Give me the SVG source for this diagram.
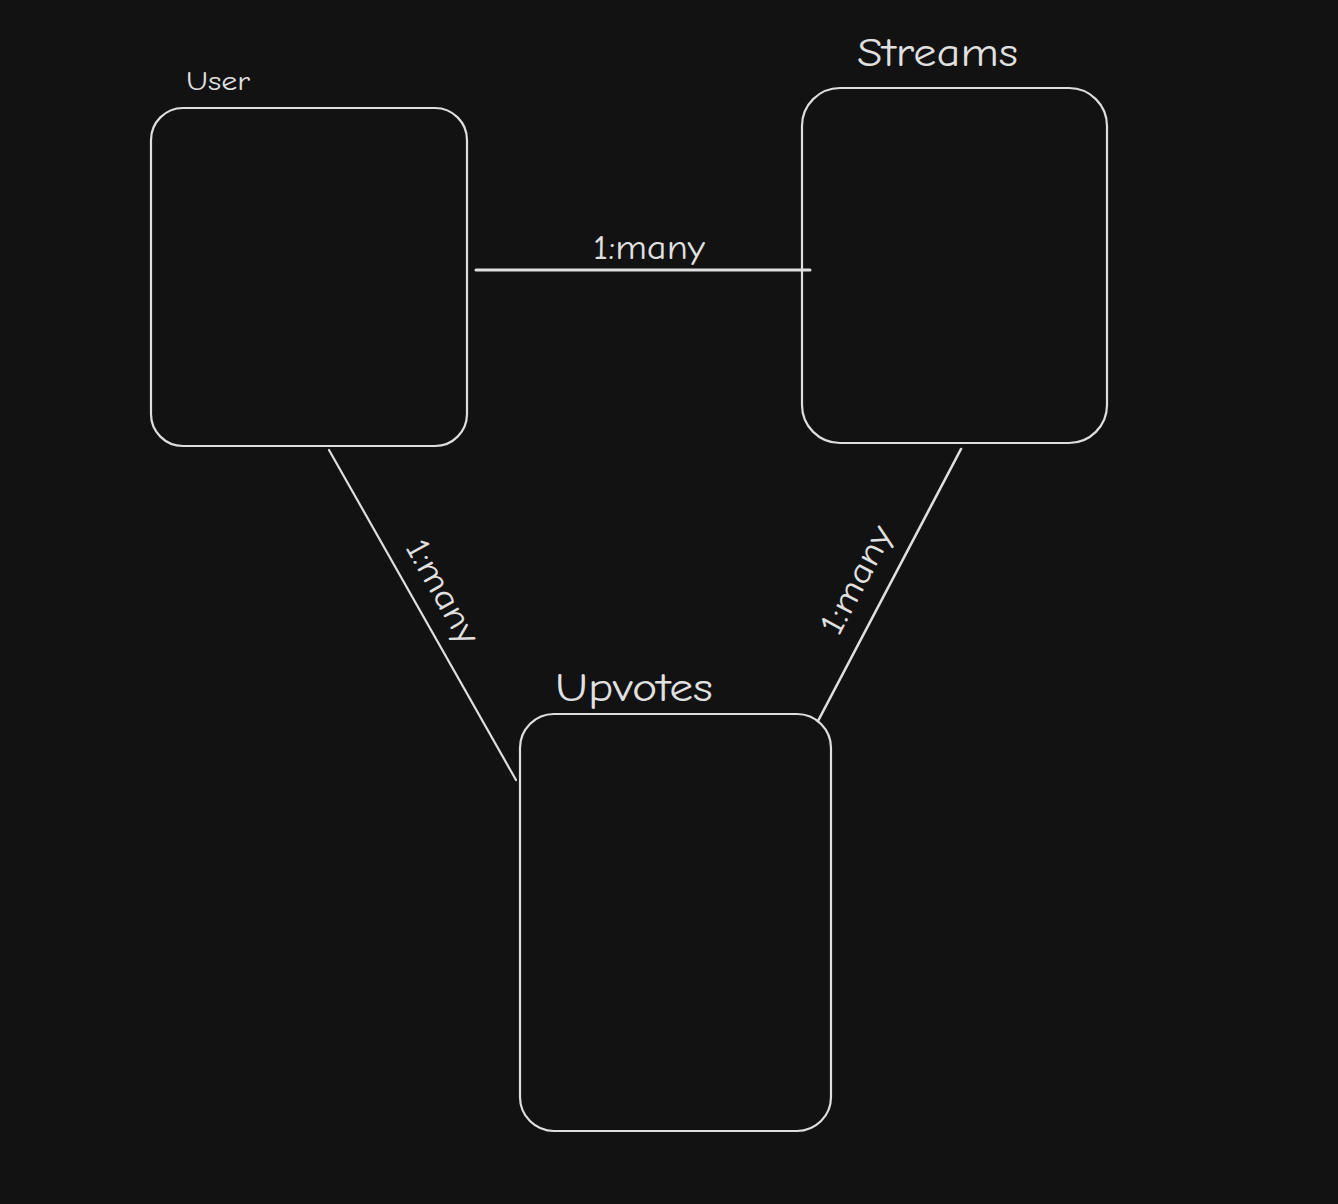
<svg xmlns="http://www.w3.org/2000/svg" width="1338" height="1204" viewBox="0 0 1338 1204">
<style>
.box{fill:none;stroke:#dedede;stroke-width:2.2}
.ln{fill:none;stroke:#dedede;stroke-linecap:round}
.t{fill:#e0e0e0;font-family:"Comic Neue","Liberation Sans",sans-serif}
</style>
<rect width="1338" height="1204" fill="#121212"/>
<g id="connectors">
<line class="ln" x1="476" y1="270" x2="810" y2="270" stroke-width="3"/>
<line class="ln" x1="329" y1="450" x2="516" y2="780" stroke-width="2.2"/>
<line class="ln" x1="961" y1="449" x2="818" y2="721" stroke-width="2.6"/>
<text class="t" x="593" y="259" font-size="34" textLength="112" lengthAdjust="spacingAndGlyphs">1:many</text>
<text class="t" font-size="34" text-anchor="middle" textLength="115" lengthAdjust="spacingAndGlyphs" transform="translate(433,597) rotate(60.6)">1:many</text>
<text class="t" font-size="34" text-anchor="middle" textLength="118" lengthAdjust="spacingAndGlyphs" transform="translate(866,585) rotate(-62.3)">1:many</text>
</g>
<g id="user">
<rect class="box" x="151" y="108" width="316" height="338" rx="32"/>
<text class="t" x="186" y="90" font-size="26" textLength="64" lengthAdjust="spacingAndGlyphs">User</text>
</g>
<g id="streams">
<rect class="box" x="802" y="88" width="305" height="355" rx="38"/>
<text class="t" x="857" y="66" font-size="40" textLength="161" lengthAdjust="spacingAndGlyphs">Streams</text>
</g>
<g id="upvotes">
<rect class="box" x="520" y="714" width="311" height="417" rx="34"/>
<text class="t" x="555" y="701" font-size="40" textLength="158" lengthAdjust="spacingAndGlyphs">Upvotes</text>
</g>
</svg>
